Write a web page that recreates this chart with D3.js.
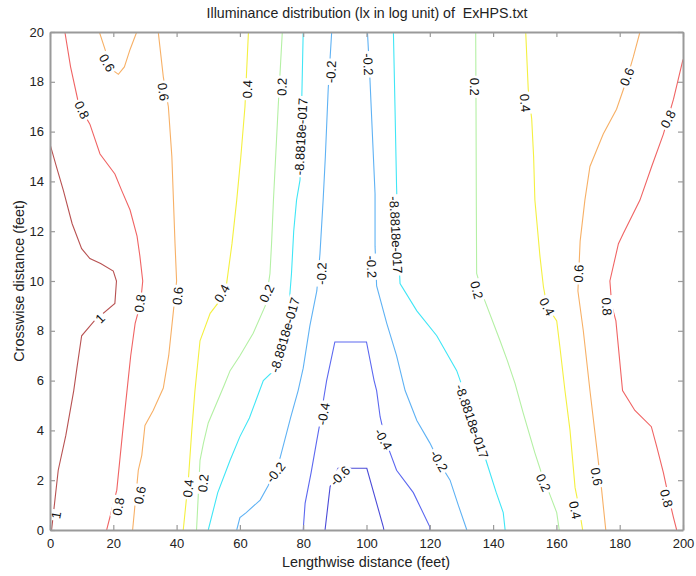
<!DOCTYPE html>
<html>
<head>
<meta charset="utf-8">
<script src="https://cdn.jsdelivr.net/npm/d3@7"></script>
<style>
  body { margin: 0; background: #fff; }
  svg { display: block; font-family: Arial, "Liberation Sans", Helvetica, sans-serif; }
</style>
</head>
<body>
<svg id="chart" width="696" height="576"></svg>
<script>
// Contour levels of log10 illuminance and their line colours (jet-like)
const levels = [-0.6, -0.4, -0.2, 0, 0.2, 0.4, 0.6, 0.8, 1];
const levelColors = ["#4b4bd8", "#5c68f0", "#5fb2f4", "#40e6f6", "#b4f0a4", "#f4f040", "#f7b066", "#f06464", "#b85252"];

// Contour paths: [x (ft), y (ft)] vertices
const c_m06 = [[86.9,0],[88,1.2],[88.5,1.74],[91,2.48],[94.3,2.48],[100.1,2.48],[105.3,0.13],[105.5,0]];
const c_m04 = [[80,0],[80.6,1.07],[82.5,2.3],[84.3,3.6],[85.3,4.3],[86.5,5.3],[87.4,6],[90,7.55],[100,7.55],[102.4,6],[103.2,5.6],[104.3,4.55],[106,3.6],[109.5,2.4],[114.8,1.5],[120,0.13],[120,0]];
const c_m02a = [[89,20],[87.9,17.7],[87,15],[86.3,13.25],[85.3,11.1],[84.3,9.6],[82.1,8.2],[80,6.5],[78.4,5.6],[76,4.5],[72.7,2.9],[69,1.8],[66.4,1.2],[62,0.7],[60,0.5],[59,0]];
const c_m02b = [[100.3,20],[101.1,18.07],[102,15.5],[102.7,13.5],[102.7,11.4],[103.2,9.8],[106.4,8.3],[109.5,7],[112.2,5.6],[115.9,4.4],[120,3.5],[123.5,2.6],[126.4,2],[129,1],[131.7,0]];
const c_0a = [[80,20],[79.5,17],[79,14.06],[77.9,13.25],[77,12],[76.3,10.3],[75.5,9],[74,7.5],[71.5,6.5],[67.4,6],[63,4.5],[60,3.75],[56.9,2.8],[53,1.5],[50,0]];
const c_0b = [[108.5,20],[109,17],[109.5,13.8],[110,11.5],[110.6,9.9],[115.9,8.8],[122.2,7.8],[128.5,6.4],[131,5.5],[134,4.3],[138,2.7],[141,1.5],[143.2,0.7],[143.8,0]];
const c_02a = [[73.4,20],[72.1,17],[71.3,15],[70.6,13.25],[70,11.5],[69.5,10.3],[68,9],[64.2,7.9],[60,7],[56.9,6.4],[55,5.8],[52,4.9],[50,4.3],[48.5,3.5],[47.4,2.8],[46.3,0]];
const c_02b = [[134.5,20],[134.6,17],[134.7,13],[134.8,10.3],[137.4,9.2],[142.2,7.6],[144.5,6.8],[146.9,5.9],[149.5,4.7],[153.2,3.1],[155.5,2.2],[158,1.4],[160.1,0.7],[160.9,0]];
const c_04a = [[62.7,20],[61.6,17],[60.3,15],[59,13.25],[57.5,11.5],[55.8,9.9],[53,9.1],[50.6,8.7],[47.4,7.6],[45.8,5.6],[44.8,4],[43.7,2],[42.1,0]];
const c_04b = [[150.3,20],[151.1,17.7],[152.2,16.5],[152.8,15],[153.2,13.25],[154.8,11],[155.9,9.77],[157,9],[160.1,8.4],[161.1,7.36],[162.7,5.6],[164.3,4],[165.9,1.7],[167,1],[168.3,0]];
const c_06a = [[15.6,20],[17.9,19.1],[19.5,18.5],[21.6,18.3],[23.5,18.6],[25.3,19.3],[27.4,20]];
const c_06b = [[34.2,20],[35.8,18.2],[37.4,17],[38.5,15],[39,13.25],[39.5,11.5],[40,10],[39,8.8],[37.5,7],[35.8,5.7],[32.6,4.8],[30,4.2],[29,3],[27.9,2.4],[26.1,0]];
const c_06c = [[186.4,20],[184.3,19],[182,18],[179,16.9],[174.8,15.9],[170.6,14.6],[169,13.25],[167.5,11.6],[166.8,9.6],[168.5,8],[170.6,5.6],[172.7,3.35],[174.3,1.6],[175.6,0]];
const c_08a = [[4.7,20],[6.5,18.6],[8.9,17.2],[10.8,16.7],[12.6,16.3],[15.8,15.1],[20.5,14.3],[22.6,13.65],[25.3,12.85],[27.5,11.8],[28.4,11],[29.3,10],[28.6,9.1],[26.9,8.3],[25.5,7],[24.5,5.8],[23,4],[21.1,1.6],[17.9,0]];
const c_08b = [[200,18.9],[197,17.3],[193.8,15.9],[190.1,14.6],[186.4,13.25],[181.1,11.9],[179.6,11.5],[176.9,10],[177.5,9],[178.8,8.4],[180.9,5.6],[184.8,4.8],[190,4.15],[191.7,3.35],[193.8,2.3],[195.5,1.3],[197,0.5],[198,0]];
const c_1 = [[0,15.5],[2,14.6],[4.2,13.65],[7,12.3],[10,11.3],[12.6,10.9],[16,10.7],[20,10.4],[21,10],[20.5,9.1],[14,8.4],[10,7.8],[8.5,6.5],[7.5,5.6],[5,3.8],[2.6,2.4],[0.5,0]];

const contours = [
  { level: -0.6, pts: c_m06 }, { level: -0.4, pts: c_m04 },
  { level: -0.2, pts: c_m02a }, { level: -0.2, pts: c_m02b },
  { level: 0, pts: c_0a }, { level: 0, pts: c_0b },
  { level: 0.2, pts: c_02a }, { level: 0.2, pts: c_02b },
  { level: 0.4, pts: c_04a }, { level: 0.4, pts: c_04b },
  { level: 0.6, pts: c_06a }, { level: 0.6, pts: c_06b }, { level: 0.6, pts: c_06c },
  { level: 0.8, pts: c_08a }, { level: 0.8, pts: c_08b },
  { level: 1, pts: c_1 }
];

// Inline contour labels: [text, x, y, angle in degrees]
const zeroText = "-8.8818e-017";
const labels = [
  ["0.6", 18.0, 18.76, 60], ["0.6", 35.8, 17.6, 82], ["0.8", 10.1, 16.87, 65],
  ["0.4", 62.4, 17.7, -88], ["0.2", 73.3, 17.8, -88], [zeroText, 79.3, 15.8, -87],
  ["-0.2", 88.8, 18.4, -87], ["-0.2", 100.5, 18.7, 87], ["0.2", 134.3, 17.8, 90],
  ["0.4", 150.1, 17.15, 85], ["0.6", 182.3, 18.2, -68], ["0.8", 195.3, 16.5, -63],
  ["1", 15.8, 8.5, -45], ["0.8", 28.4, 9.1, -82], ["0.6", 40.4, 9.4, -85],
  ["0.4", 54.3, 9.5, -61], ["0.2", 68.5, 9.5, -65], [zeroText, 74.2, 7.83, -74],
  ["-0.2", 85.8, 10.3, -88], ["-0.2", 101.6, 10.57, 88], [zeroText, 109.3, 11.85, 87],
  ["0.2", 134.8, 9.64, 75], ["0.4", 157.0, 8.97, 62], ["0.6", 167.0, 10.3, -88],
  ["0.8", 175.9, 8.97, 85], ["-0.4", 86.4, 4.66, -80], ["-0.4", 105.3, 3.65, 60],
  ["-0.2", 71.3, 2.31, -52], ["-0.6", 91.6, 2.17, -45], ["-0.2", 122.9, 2.77, 60],
  [zeroText, 133.3, 4.36, 71], ["0.2", 155.9, 1.9, 65], ["0.4", 165.9, 0.8, 78],
  ["0.6", 172.7, 2.14, 80], ["0.8", 194.8, 1.27, 75], ["0.8", 21.6, 0.94, -80],
  ["0.6", 28.4, 1.4, -80], ["0.4", 43.7, 1.67, -85], ["0.2", 48.4, 1.88, -85],
  ["1", 1.9, 0.6, -80]
];

const xTicks = [0, 20, 40, 60, 80, 100, 120, 140, 160, 180, 200];
const yTicks = [0, 2, 4, 6, 8, 10, 12, 14, 16, 18, 20];

const titleText = "Illuminance distribution (lx in log unit) of  ExHPS.txt";
const xLabel = "Lengthwise distance (feet)";
const yLabel = "Crosswise distance (feet)";

const svg = d3.select("#chart");
const plotLeft = 50, plotRight = 683, plotTop = 32, plotBottom = 530;

const x = d3.scaleLinear().domain([0, 200]).range([plotLeft, plotRight]);
const y = d3.scaleLinear().domain([0, 20]).range([plotBottom, plotTop]);
const color = d3.scaleOrdinal().domain(levels).range(levelColors);

svg.append("clipPath").attr("id", "plotClip")
  .append("rect").attr("x", plotLeft).attr("y", plotTop)
  .attr("width", plotRight - plotLeft).attr("height", plotBottom - plotTop);

const plot = svg.append("g").attr("clip-path", "url(#plotClip)");

const line = d3.line().x(d => x(d[0])).y(d => y(d[1]));

plot.selectAll("path.contour")
  .data(contours)
  .join("path")
  .attr("class", "contour")
  .attr("d", d => line(d.pts))
  .attr("fill", "none")
  .attr("stroke", d => color(d.level))
  .attr("stroke-width", 1.1);

// Labels: white box breaks the line, text on top
const lab = plot.selectAll("g.clabel")
  .data(labels)
  .join("g")
  .attr("class", "clabel")
  .attr("transform", d => `translate(${x(d[1])},${y(d[2])}) rotate(${d[3]})`);

lab.append("text")
  .attr("text-anchor", "middle")
  .attr("dy", "0.35em")
  .attr("font-size", 13)
  .attr("fill", "#111")
  .text(d => d[0]);

lab.each(function () {
  const g = d3.select(this);
  const bb = g.select("text").node().getBBox();
  g.insert("rect", "text")
    .attr("x", bb.x - 2).attr("y", bb.y + 1)
    .attr("width", bb.width + 4).attr("height", bb.height - 2)
    .attr("fill", "#fff");
});

// Axes with inward ticks on all four sides
const axisColor = "#9a9a9a";
const xAxis = svg.append("g").attr("transform", `translate(0,${plotBottom})`)
  .call(d3.axisBottom(x).tickValues(xTicks).tickSizeInner(-5).tickSizeOuter(0).tickPadding(9));
const xAxisTop = svg.append("g").attr("transform", `translate(0,${plotTop})`)
  .call(d3.axisTop(x).tickValues(xTicks).tickSizeInner(-5).tickSizeOuter(0).tickFormat(""));
const yAxis = svg.append("g").attr("transform", `translate(${plotLeft},0)`)
  .call(d3.axisLeft(y).tickValues(yTicks).tickSizeInner(-5).tickSizeOuter(0).tickPadding(6));
const yAxisRight = svg.append("g").attr("transform", `translate(${plotRight},0)`)
  .call(d3.axisRight(y).tickValues(yTicks).tickSizeInner(-5).tickSizeOuter(0).tickFormat(""));

[xAxis, xAxisTop, yAxis, yAxisRight].forEach(a => {
  a.select(".domain").attr("stroke", axisColor).attr("stroke-width", 2);
  a.selectAll(".tick line").attr("stroke", axisColor).attr("stroke-width", 1.2);
  a.selectAll(".tick text").attr("font-size", 13).attr("fill", "#222")
    .attr("font-family", "Arial, 'Liberation Sans', sans-serif");
});

svg.append("text")
  .attr("x", 367).attr("y", 18)
  .attr("text-anchor", "middle").attr("font-size", 14.2).attr("fill", "#222")
  .style("white-space", "pre")
  .text(titleText);

svg.append("text")
  .attr("x", 366).attr("y", 567)
  .attr("text-anchor", "middle").attr("font-size", 14.4).attr("fill", "#222")
  .text(xLabel);

svg.append("text")
  .attr("transform", `translate(24,${(plotTop + plotBottom) / 2}) rotate(-90)`)
  .attr("text-anchor", "middle").attr("font-size", 14.4).attr("fill", "#222")
  .text(yLabel);
</script>
</body>
</html>
